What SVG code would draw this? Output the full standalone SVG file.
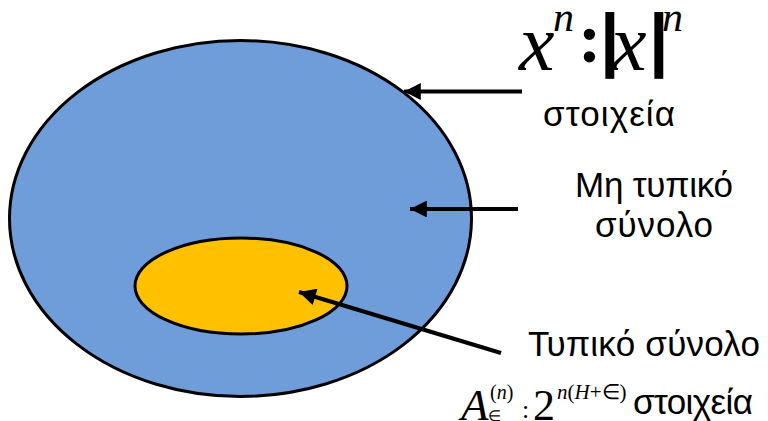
<svg xmlns="http://www.w3.org/2000/svg" width="768" height="421" viewBox="0 0 768 421">
<defs>
<style>
.lbl{font-family:"Liberation Sans",Arial,sans-serif;font-size:35px;fill:#000}
.math{font-family:"Liberation Serif","Times New Roman",serif;fill:#000}
.it{font-style:italic}
.bar{font-family:"Liberation Sans",Arial,sans-serif;font-size:70px;font-weight:bold;fill:#000}
.conn{stroke:#000;stroke-width:4;fill:none}
</style>
<marker id="ah" viewBox="0 0 10 10" refX="10" refY="5" markerWidth="6" markerHeight="4.2" markerUnits="strokeWidth" orient="auto">
<path d="M0,0 L10,5 L0,10 z" fill="#000"/>
</marker>
</defs>
<g id="non-typical-set">
<ellipse cx="240.5" cy="218.5" rx="231" ry="178" fill="#6F9DD9" stroke="#000" stroke-width="3"/>
</g>
<g id="typical-set">
<ellipse cx="241" cy="286" rx="106" ry="48" fill="#FFC000" stroke="#000" stroke-width="3"/>
</g>
<g id="connectors">
<line class="conn" x1="522" y1="91.5" x2="404" y2="91.5" marker-end="url(#ah)"/>
<line class="conn" x1="518" y1="209" x2="410" y2="209" marker-end="url(#ah)"/>
<line class="conn" x1="501" y1="353" x2="299" y2="292" marker-end="url(#ah)"/>
</g>
<g id="label-all">
<text class="math it" x="519" y="70" font-size="80">x</text>
<text class="math it" x="553" y="31" font-size="42">n</text>
<text class="math" x="578" y="62" font-size="70" font-weight="bold">:</text>
<text class="bar" x="600" y="63">|</text>
<text class="math it" x="611" y="70" font-size="80">x</text>
<text class="bar" x="649" y="63">|</text>
<text class="math it" x="662" y="31" font-size="42">n</text>
<text class="lbl" x="543" y="126" textLength="132">στοιχεία</text>
</g>
<g id="label-nontypical">
<text class="lbl" x="575" y="197" textLength="158">Μη τυπικό</text>
<text class="lbl" x="595" y="237" textLength="118">σύνολο</text>
</g>
<g id="label-typical">
<text class="lbl" x="528" y="356" textLength="232">Τυπικό σύνολο</text>
<text class="math it" x="461" y="420" font-size="45">A</text>
<text class="math" x="488" y="421" font-size="15">∈</text>
<text class="math" x="490" y="399" font-size="20">(<tspan class="it">n</tspan>)</text>
<text class="math" x="522" y="418" font-size="26">:</text>
<text class="math" x="533" y="420" font-size="44">2</text>
<text class="math" x="557" y="399" font-size="21"><tspan class="it">n</tspan>(<tspan class="it">H</tspan>+∈)</text>
<text class="lbl" x="633" y="414" font-size="34" textLength="120">στοιχεία</text>
</g>
</svg>
